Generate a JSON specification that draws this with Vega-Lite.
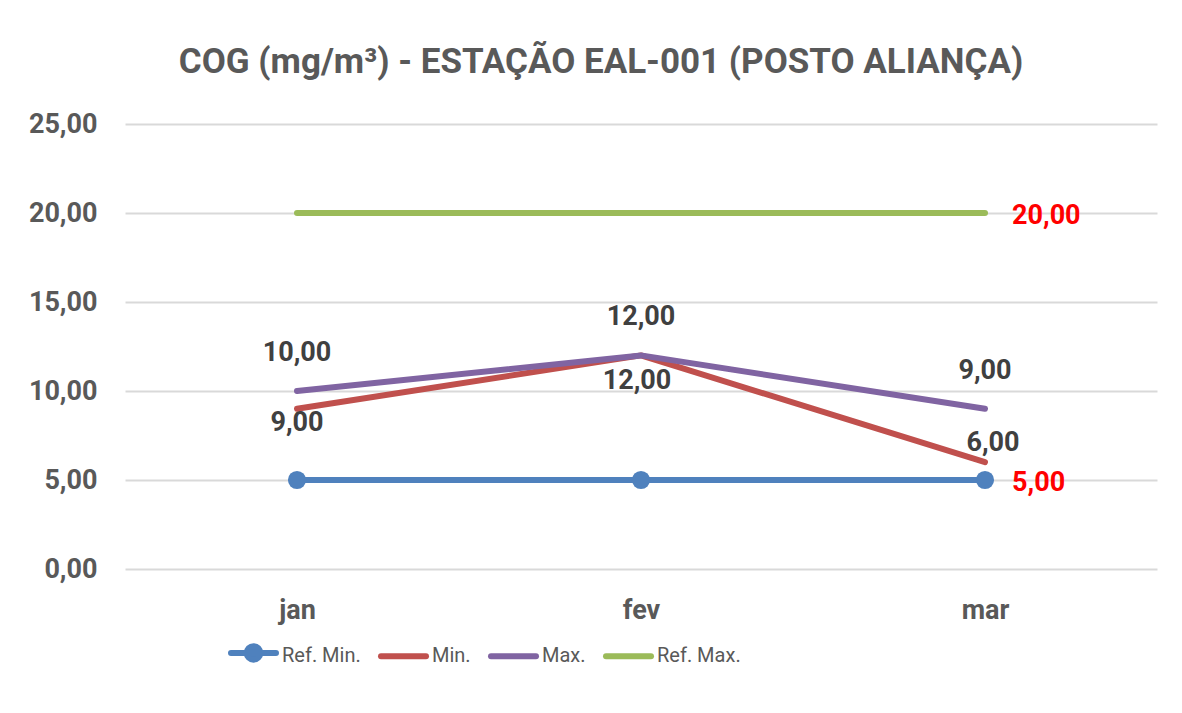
{
  "$schema": "https://vega.github.io/schema/vega-lite/v6.json",
  "width": 1032,
  "height": 445,
  "autosize": {"type": "none"},
  "padding": {"left": 125, "top": 124, "right": 25, "bottom": 144},
  "background": "white",
  "config": {
    "locale": {"number": {"decimal": ",", "thousands": ".", "grouping": [3], "currency": ["R$", ""]}},
    "font": "Roboto",
    "view": {"stroke": null}
  },
  "title": {
    "text": "COG (mg/m³) - ESTAÇÃO EAL-001 (POSTO ALIANÇA)",
    "font": "Roboto",
    "fontSize": 35,
    "fontWeight": "bold",
    "color": "#595959",
    "anchor": "middle",
    "dx": -40,
    "offset": 30
  },
  "data": {
    "values": [
      {"month": "jan", "series": "Ref. Min.", "value": 5},
      {"month": "fev", "series": "Ref. Min.", "value": 5},
      {"month": "mar", "series": "Ref. Min.", "value": 5},
      {"month": "jan", "series": "Min.", "value": 9},
      {"month": "fev", "series": "Min.", "value": 12},
      {"month": "mar", "series": "Min.", "value": 6},
      {"month": "jan", "series": "Max.", "value": 10},
      {"month": "fev", "series": "Max.", "value": 12},
      {"month": "mar", "series": "Max.", "value": 9},
      {"month": "jan", "series": "Ref. Max.", "value": 20},
      {"month": "fev", "series": "Ref. Max.", "value": 20},
      {"month": "mar", "series": "Ref. Max.", "value": 20}
    ]
  },
  "encoding": {
    "x": {
      "field": "month",
      "type": "ordinal",
      "sort": ["jan", "fev", "mar"],
      "scale": {"type": "point", "padding": 0.5},
      "axis": {
        "title": null,
        "domain": false,
        "ticks": false,
        "grid": false,
        "labelAngle": 0,
        "labelPadding": 28,
        "labelFont": "Roboto",
        "labelFontSize": 27,
        "labelFontWeight": "bold",
        "labelColor": "#595959"
      }
    },
    "y": {
      "field": "value",
      "type": "quantitative",
      "scale": {"domain": [0, 25], "nice": false, "zero": true},
      "axis": {
        "title": null,
        "values": [0, 5, 10, 15, 20, 25],
        "format": ".2f",
        "domain": false,
        "ticks": false,
        "grid": true,
        "gridColor": "#D9D9D9",
        "gridWidth": 2,
        "labelPadding": 28,
        "labelFont": "Roboto",
        "labelFontSize": 27,
        "labelFontWeight": "bold",
        "labelColor": "#595959"
      }
    }
  },
  "layer": [
    {
      "mark": {"type": "line", "strokeWidth": 6, "strokeCap": "round", "strokeJoin": "round"},
      "encoding": {
        "color": {
          "field": "series",
          "type": "nominal",
          "scale": {
            "domain": ["Ref. Min.", "Min.", "Max.", "Ref. Max."],
            "range": ["#4F81BD", "#C0504D", "#8064A2", "#9BBB59"]
          },
          "legend": {
            "title": null,
            "orient": "none",
            "direction": "horizontal",
            "legendX": 103,
            "legendY": 503,
            "symbolType": "stroke",
            "symbolSize": 2025,
            "symbolStrokeWidth": 6,
            "labelFont": "Roboto",
            "labelFontSize": 20,
            "labelColor": "#595959",
            "labelOffset": 3,
            "labelBaseline": "middle",
            "columnPadding": 8,
            "encode": {
              "symbols": {
                "update": {
                  "shape": {"signal": "datum.value === 'Ref. Min.' ? 'M-1,0H1M-0.3,0A0.3,0.3,0,1,1,0.3,0A0.3,0.3,0,1,1,-0.3,0Z' : 'stroke'"},
                  "fill": {"signal": "datum.value === 'Ref. Min.' ? '#4F81BD' : 'transparent'"},
                  "strokeCap": {"value": "round"},
                  "strokeWidth": {"value": 6}
                }
              },
              "labels": {
                "update": {
                  "dy": {"signal": "datum.value === 'Ref. Min.' ? 3 : 0"}
                }
              }
            }
          }
        }
      }
    },
    {
      "transform": [{"filter": "datum.series === 'Ref. Min.'"}],
      "mark": {"type": "point", "filled": true, "size": 330, "opacity": 1, "color": "#4F81BD"},
      "encoding": {}
    },
    {
      "transform": [{"filter": "datum.series === 'Max.'"}],
      "mark": {"type": "text", "dy": -38, "align": "center", "baseline": "middle", "fontSize": 27, "fontWeight": "bold", "color": "#404040", "font": "Roboto"},
      "encoding": {"text": {"field": "value", "type": "quantitative", "format": ".2f"}}
    },
    {
      "transform": [{"filter": "datum.series === 'Min.' && datum.month === 'jan'"}],
      "mark": {"type": "text", "dy": 14, "align": "center", "baseline": "middle", "fontSize": 27, "fontWeight": "bold", "color": "#404040", "font": "Roboto"},
      "encoding": {"text": {"field": "value", "type": "quantitative", "format": ".2f"}}
    },
    {
      "transform": [{"filter": "datum.series === 'Min.' && datum.month === 'fev'"}],
      "mark": {"type": "text", "dy": 26, "dx": -4, "align": "center", "baseline": "middle", "fontSize": 27, "fontWeight": "bold", "color": "#404040", "font": "Roboto"},
      "encoding": {"text": {"field": "value", "type": "quantitative", "format": ".2f"}}
    },
    {
      "transform": [{"filter": "datum.series === 'Min.' && datum.month === 'mar'"}],
      "mark": {"type": "text", "dy": -19, "dx": 8, "align": "center", "baseline": "middle", "fontSize": 27, "fontWeight": "bold", "color": "#404040", "font": "Roboto"},
      "encoding": {"text": {"field": "value", "type": "quantitative", "format": ".2f"}}
    },
    {
      "transform": [{"filter": "(datum.series === 'Ref. Min.' || datum.series === 'Ref. Max.') && datum.month === 'mar'"}],
      "mark": {"type": "text", "dx": 27, "dy": 3, "align": "left", "baseline": "middle", "fontSize": 27, "fontWeight": "bold", "color": "#FF0000", "font": "Roboto"},
      "encoding": {"text": {"field": "value", "type": "quantitative", "format": ".2f"}}
    }
  ]
}
